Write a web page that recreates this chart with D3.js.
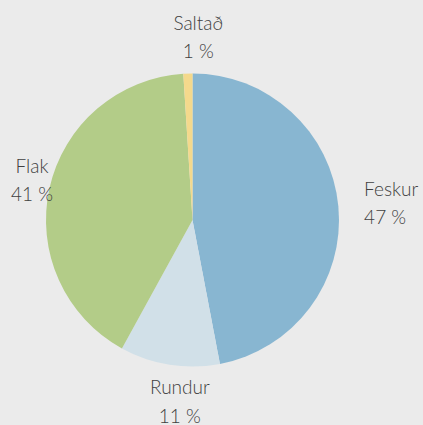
<!DOCTYPE html>
<html>
<head>
    <title>Pie chart</title>
    <script src="https://d3js.org/d3.v7.min.js"></script>
    <style>
        body { margin: 0; background: #ebebeb; }
        .label {
            font-family: Lato, "Open Sans", sans-serif;
            font-size: 19px;
            font-weight: 300;
            fill: #404040;
        }
    </style>
</head>
<body>
<div id="chart"></div>
<script>
    // data
    const categories = ["Feskur", "Rundur", "Flak", "Saltað"];
    const values = [47, 11, 41, 1];
    const valueLabels = ["47 %", "11 %", "41 %", "1 %"];
    const colors = ["#88b6d1", "#d1e0e8", "#b3cc88", "#f4d98c"];

    const W = 423, H = 425;
    const cx = 192.5, cy = 220, r = 146.5;

    const svg = d3.select("#chart").append("svg")
        .attr("width", W)
        .attr("height", H);

    svg.append("rect").attr("width", W).attr("height", H).attr("fill", "#ebebeb");

    const pie = d3.pie().sort(null).value(d => d.value);
    const arc = d3.arc().innerRadius(0).outerRadius(r);

    const data = categories.map((c, i) => ({ name: c, value: values[i], label: valueLabels[i], color: colors[i] }));
    const arcs = pie(data);

    const g = svg.append("g").attr("transform", `translate(${cx},${cy})`);

    g.selectAll("path")
        .data(arcs)
        .enter()
        .append("path")
        .attr("d", arc)
        .attr("fill", d => d.data.color);

    // labels outside the pie, pushed out by their own box size
    const nudge = { "Rundur": 19, "Saltað": 12 };
    const lineGap = 28.5;

    arcs.forEach(d => {
        const a = (d.startAngle + d.endAngle) / 2;
        const s = Math.sin(a), c = Math.cos(a);
        const t = svg.append("text").attr("class", "label");
        const l1 = t.append("tspan").text(d.data.name);
        const l2 = t.append("tspan").text(d.data.label);
        const w = Math.max(l1.node().getComputedTextLength(), l2.node().getComputedTextLength());
        const h = 42;
        let x = cx + (r + 26) * s + s * w / 2 + (nudge[d.data.name] || 0);
        const y = cy - (r + 16) * c - c * h / 2;
        x = Math.max(11 + w / 2, Math.min(W - 2 - w / 2, x));
        const rightSide = s > 0.5;
        const x0 = rightSide ? x - w / 2 : x;
        t.attr("text-anchor", rightSide ? "start" : "middle");
        l1.attr("x", x0).attr("y", y - 7);
        l2.attr("x", x0).attr("y", y - 7 + lineGap);
    });
</script>
</body>
</html>
